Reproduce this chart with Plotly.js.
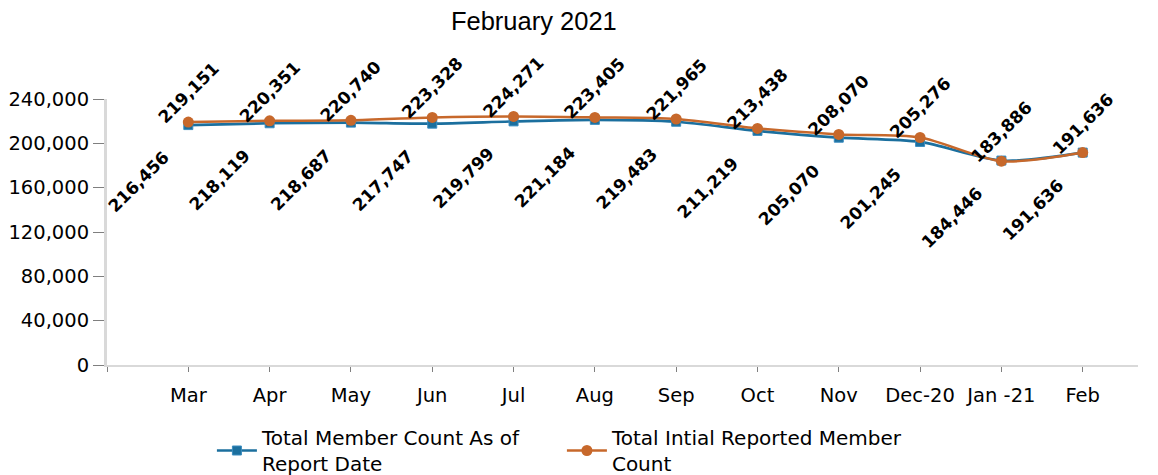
<!DOCTYPE html>
<html>
<head>
<meta charset="utf-8">
<script src="https://cdn.plot.ly/plotly-3.0.1.min.js"></script>
<style>html,body{margin:0;padding:0;background:#fff}#chart{width:1158px;height:475px}</style>
</head>
<body>
<div id="chart"></div>
<script>
const categories = ["Mar","Apr","May","Jun","Jul","Aug","Sep","Oct","Nov","Dec-20","Jan -21","Feb"];
const memberCountAsOfReport = [216456,218119,218687,217747,219799,221184,219483,211219,205070,201245,184446,191636];
const initialReportedCount = [219151,220351,220740,223328,224271,223405,221965,213438,208070,205276,183886,191636];
const seriesNames = ["Total Member Count As of<br>Report Date","Total Intial Reported Member<br>Count"];
const yTicks = [0,40000,80000,120000,160000,200000,240000];

const blue = "#1B6F9E", orange = "#C7682B";
const xs = categories.map((_, i) => i);
const fmt = v => v.toLocaleString("en-US");

const traces = [
  {x: xs, y: memberCountAsOfReport, name: seriesNames[0], type: "scatter", mode: "lines+markers",
   line: {color: blue, width: 2.7, shape: "spline", smoothing: 0.8},
   marker: {symbol: "square", size: 9, color: blue, line: {color: "#3a8cbf", width: 1}}},
  {x: xs, y: initialReportedCount, name: seriesNames[1], type: "scatter", mode: "lines+markers",
   line: {color: orange, width: 2.5, shape: "spline", smoothing: 0.8},
   marker: {symbol: "circle", size: 11, color: orange}}
];

const labelFont = {family: "DejaVu Sans", size: 17, color: "#000"};
const annotations = [];
xs.forEach(i => {
  annotations.push({x: i, y: initialReportedCount[i], xref: "x", yref: "y", text: "<b>" + fmt(initialReportedCount[i]) + "</b>",
    showarrow: false, textangle: -45, xanchor: "center", yanchor: "middle", xshift: 0, yshift: 29, font: labelFont});
  annotations.push({x: i, y: memberCountAsOfReport[i], xref: "x", yref: "y", text: "<b>" + fmt(memberCountAsOfReport[i]) + "</b>",
    showarrow: false, textangle: -45, xanchor: "center", yanchor: "middle", xshift: -50, yshift: -57, font: labelFont});
});

const layout = {
  width: 1158, height: 475,
  margin: {l: 107, r: 20, t: 99, b: 110, autoexpand: false},
  paper_bgcolor: "#fff", plot_bgcolor: "#fff",
  font: {family: "DejaVu Sans", size: 19, color: "#000"},
  title: {text: "February 2021", x: 0.461, xanchor: "center", xref: "container", y: 0.955, yanchor: "middle", yref: "container",
    font: {family: "Liberation Sans", size: 25.5, color: "#000"}},
  xaxis: {range: [-1, 11.68], tickmode: "array", tickvals: [-1].concat(xs), ticktext: [""].concat(categories),
    showgrid: false, zeroline: false, showline: true, linecolor: "#d9d9d9", linewidth: 2, automargin: false,
    ticks: "outside", ticklen: 5, tickcolor: "#7f7f7f", tickwidth: 1, ticklabelstandoff: 7,
    tickfont: {family: "DejaVu Sans", size: 19.5, color: "#000"}, fixedrange: true},
  yaxis: {range: [0, 240000], tickmode: "array", tickvals: yTicks, ticktext: yTicks.map(fmt),
    showgrid: false, zeroline: false, showline: true, linecolor: "#d9d9d9", linewidth: 3, automargin: false,
    ticks: "outside", ticklen: 11, tickcolor: "#7f7f7f", tickwidth: 1, ticklabelstandoff: 0,
    tickfont: {family: "DejaVu Sans", size: 19.5, color: "#000"}, fixedrange: true},
  showlegend: true,
  legend: {orientation: "h", x: 0.183, xanchor: "left", xref: "container", y: 0.12, yanchor: "top", yref: "container",
    font: {family: "DejaVu Sans", size: 20, color: "#000"}, entrywidth: 295, itemwidth: 40, tracegroupgap: 0},
  annotations: annotations
};

Plotly.newPlot("chart", traces, layout, {displayModeBar: false, staticPlot: true});
</script>
</body>
</html>
